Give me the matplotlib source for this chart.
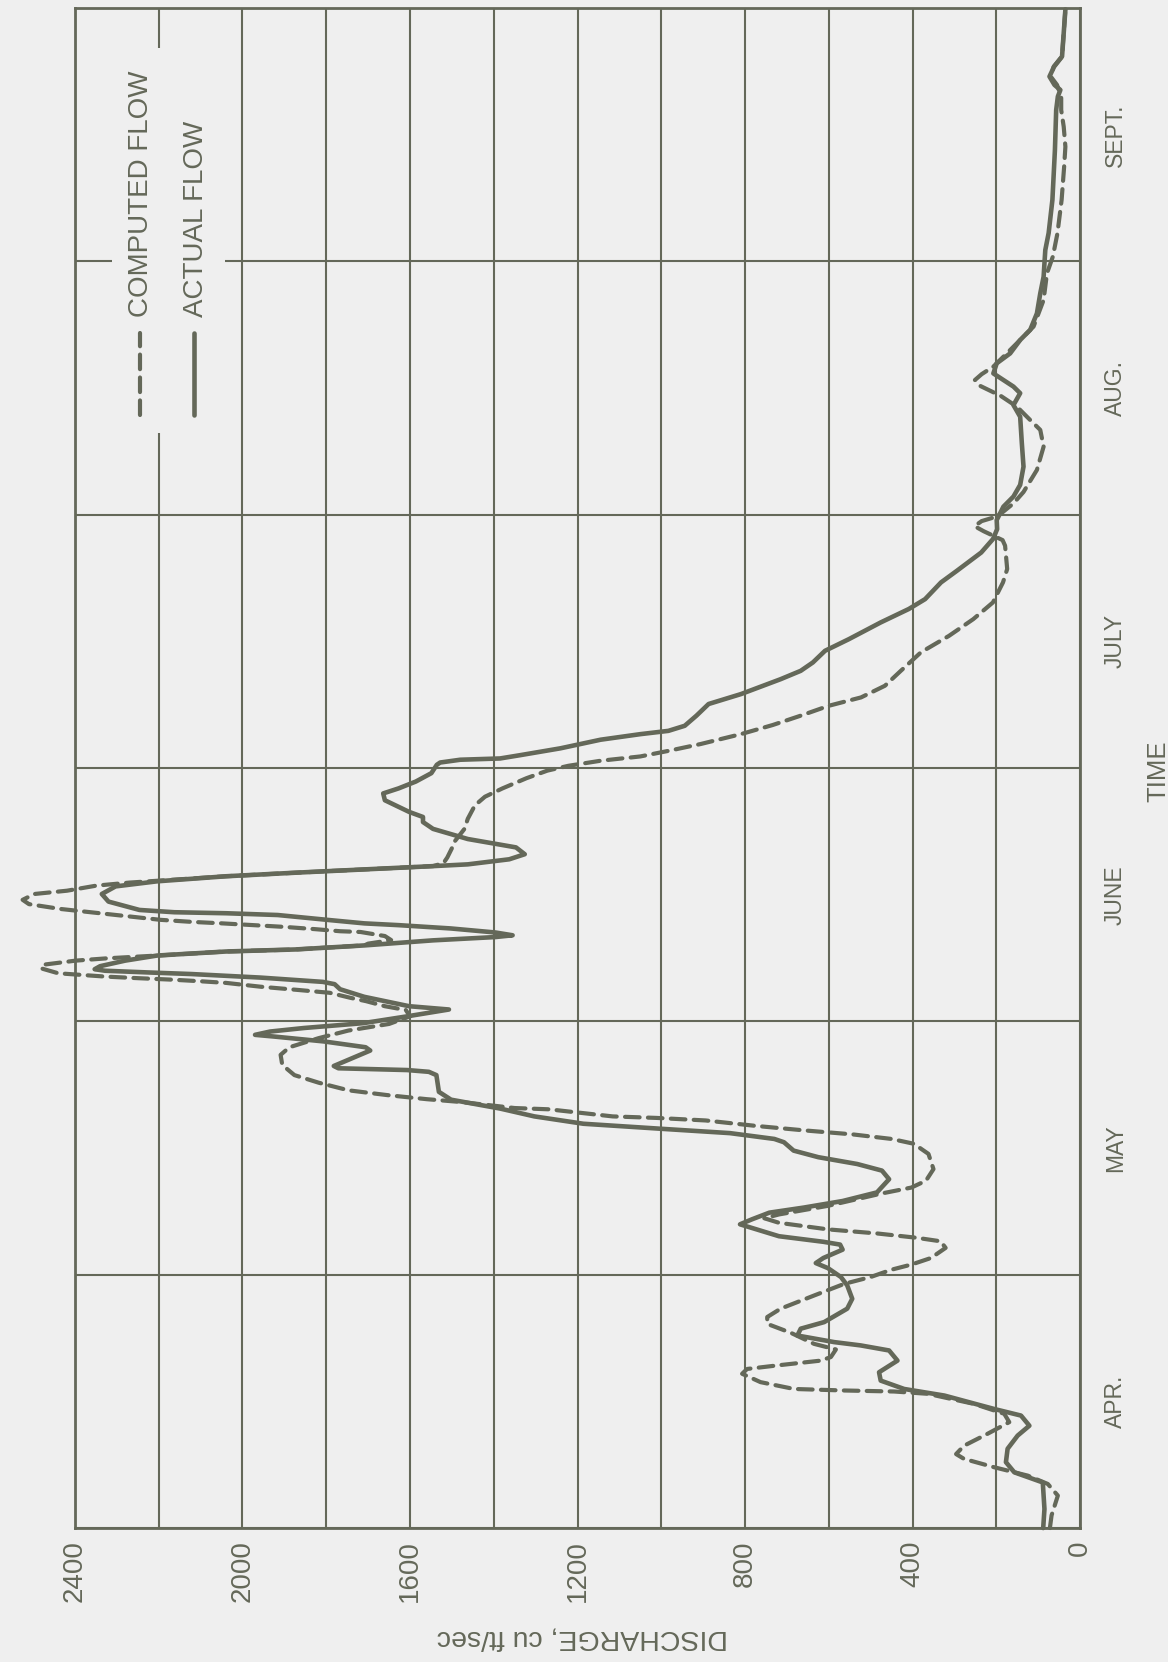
import matplotlib
matplotlib.use("Agg")
import matplotlib.pyplot as plt
from matplotlib.lines import Line2D
from matplotlib.patches import Rectangle
from matplotlib import font_manager

# ---------------------------------------------------------------------------
# Data: time in months after 1 April, discharge in cu ft/sec
# ---------------------------------------------------------------------------
actual_t = [
    0.00, 0.075, 0.18, 0.22, 0.26, 0.313, 0.365, 0.404, 0.444, 0.47, 0.523,
    0.549, 0.582, 0.615, 0.661, 0.701, 0.721, 0.734, 0.76, 0.787, 0.813,
    0.866, 0.905, 0.958, 0.991,
    1.026, 1.046, 1.066, 1.099, 1.119, 1.130, 1.152, 1.199, 1.219, 1.245,
    1.265, 1.291, 1.325, 1.377, 1.411, 1.437, 1.464, 1.490, 1.523, 1.536,
    1.559, 1.576, 1.596, 1.625, 1.656, 1.691, 1.722, 1.788, 1.801, 1.808,
    1.815, 1.824, 1.885, 1.898, 1.921, 1.940, 1.947, 1.960, 1.974, 1.993,
    2.020, 2.047,
    2.060, 2.097, 2.127, 2.147, 2.156, 2.173, 2.187, 2.193, 2.200, 2.206,
    2.218, 2.240, 2.260, 2.276, 2.284, 2.300, 2.320, 2.333, 2.340, 2.351,
    2.367, 2.380, 2.387, 2.400, 2.420, 2.427, 2.431, 2.440, 2.473, 2.503,
    2.533, 2.553, 2.573, 2.587, 2.600, 2.613, 2.620, 2.640, 2.660, 2.687,
    2.720, 2.760, 2.787, 2.807, 2.827, 2.873, 2.900, 2.920, 2.947, 2.980,
    3.013,
    3.022, 3.033, 3.038, 3.051, 3.078, 3.112, 3.134, 3.147, 3.167, 3.207,
    3.253, 3.292, 3.351, 3.384, 3.417, 3.463, 3.509, 3.575, 3.628, 3.667,
    3.733, 3.779, 3.851, 3.904, 3.943,
    3.979, 4.032, 4.072, 4.118, 4.190, 4.282, 4.387, 4.433, 4.480, 4.506,
    4.558, 4.598, 4.637, 4.690, 4.730, 4.795, 4.874, 4.940,
    5.045, 5.112, 5.243, 5.440, 5.598, 5.651, 5.677, 5.697, 5.730, 5.769,
    5.809, 5.900, 5.995,
]
actual_q = [
    88, 85, 89, 157, 177, 173, 149, 121, 141, 205, 324,
    420, 476, 480, 436, 456, 524, 587, 675, 667, 611,
    556, 544, 556, 571,
    602, 631, 613, 567, 573, 613, 719, 812, 783, 742,
    660, 567, 485, 456, 473, 532, 625, 684, 707, 730,
    836, 999, 1186, 1303, 1385, 1502, 1531, 1537, 1555, 1607,
    1771, 1782, 1695, 1706, 1806, 1923, 1970, 1934, 1853, 1712,
    1607, 1507,
    1602, 1709, 1767, 1780, 1808, 1957, 2122, 2221, 2328, 2353,
    2340, 2280, 2204, 2039, 1874, 1709, 1545, 1396, 1355, 1396,
    1503, 1627, 1709, 1792, 1916, 2039, 2163, 2246, 2320, 2336,
    2303, 2204, 2039, 1874, 1709, 1545, 1462, 1363, 1326, 1347,
    1462, 1545, 1569, 1569, 1602, 1660, 1664, 1627, 1586, 1549,
    1536,
    1528, 1480, 1385, 1337, 1241, 1145, 1050, 983, 944, 916,
    887, 810, 715, 667, 638, 609, 552, 476, 409, 370,
    332, 294, 236, 208, 198,
    199, 183, 159, 143, 135, 139, 143, 159, 143, 159,
    207, 199, 167, 143, 119, 103, 95, 87,
    83, 75, 66, 60, 57, 53, 47, 61, 73, 62,
    43, 39, 35,
]

computed_t = [
    0.00, 0.05, 0.128, 0.174, 0.207, 0.240, 0.273, 0.292, 0.325, 0.372,
    0.418, 0.451, 0.490, 0.530, 0.539, 0.543, 0.549, 0.576, 0.609, 0.628,
    0.642, 0.661, 0.675, 0.705, 0.727, 0.771, 0.806, 0.833, 0.866, 0.918,
    0.964, 0.991,
    1.020, 1.040, 1.066, 1.106, 1.132, 1.146, 1.163, 1.179, 1.205, 1.223,
    1.238, 1.272, 1.321, 1.344, 1.371, 1.417, 1.477, 1.517, 1.536, 1.554,
    1.570, 1.588, 1.609, 1.619, 1.625, 1.638, 1.653, 1.658, 1.682, 1.693,
    1.709, 1.728, 1.758, 1.788, 1.828, 1.868, 1.898, 1.934, 1.964, 1.990,
    2.020,
    2.045, 2.060, 2.080, 2.093, 2.113, 2.124, 2.137, 2.152, 2.159, 2.165,
    2.171, 2.177, 2.190, 2.210, 2.225, 2.240, 2.249, 2.260, 2.276, 2.284,
    2.300, 2.307, 2.321, 2.337, 2.353, 2.356, 2.364, 2.373, 2.380, 2.387,
    2.393, 2.401, 2.416, 2.431, 2.444, 2.463, 2.480, 2.503, 2.516, 2.536,
    2.548, 2.557, 2.573, 2.587, 2.600, 2.613, 2.625, 2.647, 2.687, 2.707,
    2.760, 2.800, 2.853, 2.887, 2.920, 2.960, 2.990,
    3.009, 3.029, 3.046, 3.068, 3.095, 3.134, 3.170, 3.207, 3.246, 3.279,
    3.325, 3.384, 3.457, 3.522, 3.588, 3.654, 3.733, 3.786, 3.878, 3.900,
    3.935, 3.955, 3.975, 3.990, 4.010,
    4.045, 4.090, 4.177, 4.269, 4.335, 4.374, 4.427, 4.470, 4.510, 4.532,
    4.555, 4.585, 4.637, 4.690, 4.743, 4.848, 4.953,
    5.019, 5.111, 5.243, 5.374, 5.453, 5.532, 5.598, 5.651, 5.697, 5.730,
    5.769, 5.809, 5.900, 5.995,
]
computed_q = [
    72, 68, 53, 77, 125, 205, 277, 296, 277, 221,
    169, 181, 253, 364, 444, 563, 683, 763, 807, 795,
    723, 619, 595, 583, 635, 691, 747, 747, 715, 635,
    563, 500,
    450, 403, 356, 321, 333, 391, 485, 602, 719, 754,
    719, 602, 473, 403, 368, 350, 362, 397, 450, 543,
    660, 777, 894, 1011, 1116, 1186, 1268, 1350, 1479, 1560,
    1654, 1747, 1818, 1876, 1905, 1909, 1888, 1818, 1747, 1650,
    1600,
    1610, 1660, 1705, 1742, 1792, 1866, 1957, 2039, 2105, 2171,
    2254, 2328, 2440, 2482, 2470, 2398, 2324, 2204, 2039, 1874,
    1709, 1700, 1645, 1660, 1718, 1767, 1825, 1899, 1973, 2048,
    2122, 2196, 2279, 2361, 2435, 2510, 2525, 2497, 2419, 2349,
    2270, 2188, 2039, 1874, 1709, 1545, 1520, 1511, 1499, 1495,
    1470, 1462, 1445, 1421, 1379, 1322, 1272,
    1222, 1145, 1050, 983, 906, 810, 734, 667, 600, 523,
    466, 428, 380, 313, 255, 208, 184, 174, 179, 185,
    230, 252, 235, 205, 185,
    159, 135, 103, 87, 95, 119, 151, 190, 240, 251,
    235, 207, 175, 143, 111, 87, 79,
    65, 54, 44, 38, 35, 39, 45, 45, 55, 70,
    63, 43, 39, 35,
]

month_labels = ["APR.", "MAY", "JUNE", "JULY", "AUG.", "SEPT."]
discharge_ticks = [0, 400, 800, 1200, 1600, 2000, 2400]
discharge_grid = list(range(0, 2401, 200))

# ---------------------------------------------------------------------------
# Styling
# ---------------------------------------------------------------------------
INK = "#646859"
PAPER = "#efefef"

installed = {f.name for f in font_manager.fontManager.ttflist}
SANS = ["Liberation Sans", "DejaVu Sans"]
if "Liberation Sans Narrow" in installed:
    NARROW = ["Liberation Sans Narrow", "DejaVu Sans"]
    narrow_size = 19.5
else:
    NARROW = SANS
    narrow_size = 16.5

plt.rcParams["font.family"] = SANS

fig = plt.figure(figsize=(11.68, 16.62), dpi=100, facecolor=PAPER)
ax = fig.add_axes([0.0642, 0.0806, 0.8605, 0.9145])
ax.set_facecolor(PAPER)

# Discharge runs right-to-left along the bottom, time runs upward
ax.set_xlim(2400, 0)
ax.set_ylim(0, 6)

ax.set_xticks(discharge_ticks)
ax.set_xticks(discharge_grid, minor=True)
ax.set_xticklabels([str(v) for v in discharge_ticks], rotation=90,
                   fontsize=20, color=INK)
ax.tick_params(axis="x", which="both", length=0, pad=9)

ax.yaxis.tick_right()
ax.set_yticks(range(0, 7))
ax.set_yticklabels([])
ax.set_yticks([m + 0.5 for m in range(6)], minor=True)
ax.set_yticklabels(month_labels, minor=True, rotation=90,
                   fontsize=narrow_size, color=INK, family=NARROW,
                   va="center")
ax.tick_params(axis="y", which="both", length=0, pad=17)

ax.grid(True, axis="x", which="both", color=INK, linewidth=1.5, zorder=1)
ax.grid(True, axis="y", which="major", color=INK, linewidth=1.5, zorder=1)
ax.set_axisbelow(True)
for side in ax.spines.values():
    side.set_color(INK)
    side.set_linewidth(2.0)

# Legend panel: clear the grid behind it
ax.add_patch(Rectangle((0.0368, 0.7204), 0.1125, 0.2533,
                       transform=ax.transAxes, facecolor=PAPER,
                       edgecolor="none", zorder=1.5))
ax.add_line(Line2D([0.0647, 0.0647], [0.7322, 0.7862],
                   transform=ax.transAxes, color=INK, linewidth=3.0,
                   linestyle=(0, (3.5, 2.0)), dash_capstyle="round",
                   zorder=3))
ax.add_line(Line2D([0.1184, 0.1184], [0.7322, 0.7862],
                   transform=ax.transAxes, color=INK, linewidth=3.3,
                   solid_capstyle="round", zorder=3))
ax.text(0.0654, 0.797, "COMPUTED FLOW", transform=ax.transAxes,
        rotation=90, ha="center", va="bottom", fontsize=20, color=INK)
ax.text(0.1204, 0.797, "ACTUAL FLOW", transform=ax.transAxes,
        rotation=90, ha="center", va="bottom", fontsize=20, color=INK)

# Flow curves
ax.plot(computed_q, computed_t, color=INK, linewidth=3.0,
        linestyle=(0, (3.5, 2.0)), dash_capstyle="round",
        solid_joinstyle="round", clip_on=False, zorder=3)
ax.plot(actual_q, actual_t, color=INK, linewidth=3.3,
        solid_joinstyle="round", solid_capstyle="round",
        clip_on=False, zorder=4)

# Axis titles
ax.text(1.0776, 0.498, "TIME", transform=ax.transAxes, rotation=90,
        ha="center", va="center", fontsize=18.5, color=INK)
ax.text(0.5045, -0.072, "DISCHARGE, cu ft/sec", transform=ax.transAxes,
        rotation=180, ha="center", va="center", fontsize=20.5, color=INK)

fig.savefig("out.png", dpi=100, facecolor=PAPER)
